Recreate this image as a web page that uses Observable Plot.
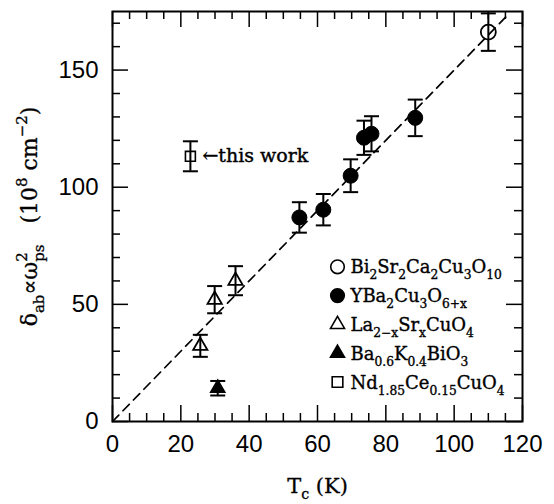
<!DOCTYPE html>
<html>
<head>
<meta charset="utf-8">
<script src="https://cdn.jsdelivr.net/npm/d3@7"></script>
<script src="https://cdn.jsdelivr.net/npm/@observablehq/plot@0.6"></script>
<style>
  html, body { margin: 0; padding: 0; background: #fff; overflow: hidden; }
  svg text { white-space: pre; }
</style>
</head>
<body>
<div id="chart"></div>
<script>
// ---- data ----
const biTc  = [110.0];
const biLam = [166.2];
const biErr = [8.0];

const ybcoTc  = [54.7, 61.7, 69.7, 73.6, 75.8, 88.6];
const ybcoLam = [87.1, 90.4, 104.9, 121.1, 122.8, 129.6];
const ybcoErr = [6.5, 6.7, 7.0, 7.3, 7.5, 7.8];

const lscoTc  = [25.7, 29.9, 36.0];
const lscoLam = [32.3, 52.0, 60.1];
const lscoErr = [4.7, 5.8, 6.2];

const bkboTc  = [30.8];
const bkboLam = [14.2];
const bkboErr = [3.1];

const ndTc  = [22.8];
const ndLam = [113.2];
const ndErr = [6.4];

const fitTc  = [0, 116];
const fitLam = [0, 174];

const xMajor = [0, 20, 40, 60, 80, 100, 120];
const xMinor = [5, 10, 15, 25, 30, 35, 45, 50, 55, 65, 70, 75, 85, 90, 95, 105, 110, 115];
const yMajor = [0, 50, 100, 150];
const yMinor = [10, 20, 30, 40, 60, 70, 80, 90, 110, 120, 130, 140, 160, 170];

const legendLabels = [
  "Bi_{2}Sr_{2}Ca_{2}Cu_{3}O_{10}",
  "YBa_{2}Cu_{3}O_{6+x}",
  "La_{2−x}Sr_{x}CuO_{4}",
  "Ba_{0.6}K_{0.4}BiO_{3}",
  "Nd_{1.85}Ce_{0.15}CuO_{4}"
];
const legendSymbols = ["circle", "circle", "triangle", "triangle", "square"];
const legendFilled  = [false, true, false, true, false];

const xLabel = "T_{c} (K)";
const yLabel = "δ_{ab}∝ω^{2}_{ps}\u00A0\u00A0\u00A0(10^{8}\u00A0cm^{−2})";
const noteLabel = "←this work";

// ---- build tables ----
function rows(tc, lam, err, set) {
  return tc.map((t, i) => ({tc: t, lam: lam[i], err: err[i], set}));
}
const bi = rows(biTc, biLam, biErr, "bi");
const ybco = rows(ybcoTc, ybcoLam, ybcoErr, "ybco");
const lsco = rows(lscoTc, lscoLam, lscoErr, "lsco");
const bkbo = rows(bkboTc, bkboLam, bkboErr, "bkbo");
const nd = rows(ndTc, ndLam, ndErr, "nd");
const all = [...bi, ...ybco, ...lsco, ...bkbo, ...nd];
const fit = fitTc.map((t, i) => ({tc: t, lam: fitLam[i]}));

const W = 554, H = 504;
const mL = 112, mR = 32, mT = 11, mB = 83;
const fw = W - mL - mR, fh = H - mT - mB;

const capSymbol = {
  draw(ctx, size) {
    const r = Math.sqrt(size / Math.PI);
    ctx.moveTo(-r, 0); ctx.lineTo(r, 0);
  }
};

const serif = "DejaVu Serif";
const sans = "Liberation Sans";

const legendMarks = [];
legendLabels.forEach((lab, i) => {
  const dy = -154.7 + i * 28.8;
  const sym = legendSymbols[i];
  const r = sym === "circle" ? 6.8 : sym === "triangle" ? 5.2 : 6.0;
  legendMarks.push(Plot.dot([lab], {
    frameAnchor: "bottom-right", dx: -185, dy,
    symbol: sym, r,
    fill: legendFilled[i] ? "black" : "white",
    stroke: "black", strokeWidth: 1.6
  }));
  legendMarks.push(Plot.text([lab], {
    text: d => d, frameAnchor: "bottom-right", dx: -172, dy: dy + 6.6,
    textAnchor: "start", lineAnchor: "bottom",
    fontSize: 18, fontFamily: serif, fill: "black", stroke: "black", strokeWidth: 0.35
  }));
});

const chart = Plot.plot({
  width: W, height: H,
  marginLeft: mL, marginRight: mR, marginTop: mT, marginBottom: mB,
  style: {background: "white", color: "black", overflow: "visible"},
  x: {domain: [0, 120], axis: null},
  y: {domain: [0, 175], axis: null},
  marks: [
    // tick labels
    Plot.axisX({ticks: xMajor, tickSize: 0, tickPadding: 13, tickFormat: d => String(d),
      fontSize: 24, fontFamily: sans, label: null}),
    Plot.axisY({ticks: yMajor, tickSize: 0, tickPadding: 14, tickFormat: d => String(d),
      fontSize: 24, fontFamily: sans, label: null}),
    // inward ticks: bottom/top
    Plot.tickX(xMajor, {x: d => d, insetTop: fh - 16, strokeWidth: 1.5}),
    Plot.tickX(xMinor, {x: d => d, insetTop: fh - 8, strokeWidth: 1.5}),
    Plot.tickX(xMajor, {x: d => d, insetBottom: fh - 16, strokeWidth: 1.5}),
    Plot.tickX(xMinor, {x: d => d, insetBottom: fh - 8, strokeWidth: 1.5}),
    // inward ticks: left/right
    Plot.tickY(yMajor, {y: d => d, insetRight: fw - 16, strokeWidth: 1.5}),
    Plot.tickY(yMinor, {y: d => d, insetRight: fw - 8, strokeWidth: 1.5}),
    Plot.tickY(yMajor, {y: d => d, insetLeft: fw - 16, strokeWidth: 1.5}),
    Plot.tickY(yMinor, {y: d => d, insetLeft: fw - 8, strokeWidth: 1.5}),
    // fit line
    Plot.line(fit, {x: "tc", y: "lam", stroke: "black", strokeWidth: 1.7, strokeDasharray: "9,6"}),
    // error bars
    Plot.ruleX(all, {x: "tc", y1: d => d.lam - d.err, y2: d => d.lam + d.err, stroke: "black", strokeWidth: 2}),
    Plot.dot(all, {x: "tc", y: d => d.lam + d.err, symbol: capSymbol, r: 7.5, fill: "none", stroke: "black", strokeWidth: 2}),
    Plot.dot(all, {x: "tc", y: d => d.lam - d.err, symbol: capSymbol, r: 7.5, fill: "none", stroke: "black", strokeWidth: 2}),
    // markers
    Plot.dot(bi, {x: "tc", y: "lam", symbol: "circle", r: 7.5, fill: "none", stroke: "black", strokeWidth: 1.8}),
    Plot.dot(ybco, {x: "tc", y: "lam", symbol: "circle", r: 7.5, fill: "black", stroke: "black", strokeWidth: 1}),
    Plot.dot(lsco, {x: "tc", y: "lam", symbol: "triangle", r: 5.3, fill: "none", stroke: "black", strokeWidth: 1.8}),
    Plot.dot(bkbo, {x: "tc", y: "lam", symbol: "triangle", r: 5.3, fill: "black", stroke: "black", strokeWidth: 1.5}),
    Plot.dot(nd, {x: "tc", y: "lam", symbol: "square", r: 5.6, fill: "none", stroke: "black", strokeWidth: 1.6}),
    // annotation
    Plot.text(nd, {x: "tc", y: "lam", text: () => noteLabel, dx: 12, textAnchor: "start",
      fontSize: 19, fontFamily: serif, fill: "black", stroke: "black", strokeWidth: 0.4}),
    // legend
    ...legendMarks,
    // axis labels
    Plot.text([xLabel], {text: d => d, frameAnchor: "bottom", dy: 71, lineAnchor: "bottom",
      textAnchor: "middle", fontSize: 21, fontFamily: serif, fill: "black", stroke: "black", strokeWidth: 0.3}),
    Plot.text([yLabel], {text: d => d, frameAnchor: "left", dx: -76, rotate: -90, lineAnchor: "bottom",
      textAnchor: "middle", fontSize: 22, fontFamily: serif, fill: "black", stroke: "black", strokeWidth: 0.3}),
    Plot.frame({stroke: "black", strokeWidth: 2})
  ]
});

document.getElementById("chart").appendChild(chart);

// make font choices explicit on every text element
d3.select(chart).selectAll("g[font-family]").each(function () {
  const fam = this.getAttribute("font-family");
  const size = this.getAttribute("font-size");
  d3.select(this).selectAll("text").style("font-family", `'${fam}'`).style("font-size", size ? size + "px" : null);
});

// rich text: _{...} subscript, ^{...} superscript
function richify(root) {
  d3.select(root).selectAll("text").each(function () {
    const t = this.textContent;
    if (!/[_^]\{/.test(t)) return;
    const fs = parseFloat(getComputedStyle(this).fontSize) || 16;
    const re = /([_^])\{([^}]*)\}|([^_^]+)/g;
    let m, cur = 0, prevSup = null;
    while (this.firstChild) this.removeChild(this.firstChild);
    while ((m = re.exec(t))) {
      const ts = document.createElementNS("http://www.w3.org/2000/svg", "tspan");
      let off = 0, size = fs;
      if (m[1] === "_") { off = 0.33 * fs; size = 0.68 * fs; }
      else if (m[1] === "^") { off = -0.42 * fs; size = 0.68 * fs; }
      const txt = m[1] ? m[2] : m[3];
      ts.textContent = txt;
      ts.style.fontSize = size + "px";
      if (off - cur !== 0) ts.setAttribute("dy", off - cur);
      if (m[1] === "_" && prevSup) {
        ts.setAttribute("dx", -prevSup.getComputedTextLength());
      }
      this.appendChild(ts);
      cur = off;
      prevSup = m[1] === "^" ? ts : null;
    }
  });
}
richify(chart);
</script>
</body>
</html>
